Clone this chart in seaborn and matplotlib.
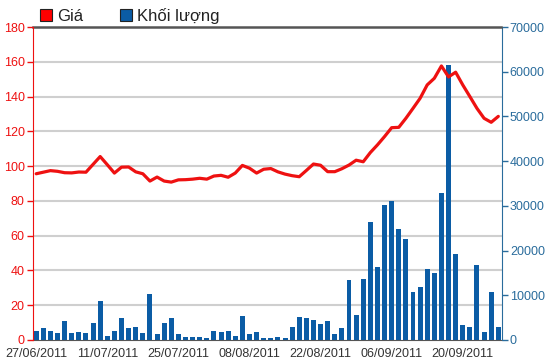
import matplotlib
matplotlib.use("Agg")
import matplotlib.pyplot as plt
from matplotlib.patches import Patch
import seaborn as sns
import pandas as pd
import numpy as np

# trading days 27/06/2011 - 27/09/2011 (02/09 is a holiday)
dates = pd.bdate_range("2011-06-27", "2011-09-27")
dates = dates[dates != pd.Timestamp("2011-09-02")]
tick_labels = ["27/06/2011", "11/07/2011", "25/07/2011", "08/08/2011",
               "22/08/2011", "06/09/2011", "20/09/2011"]

price = [95.6, 96.5, 97.4, 97.0, 96.2, 96.1, 96.6, 96.5, 101.0, 105.5,
         100.8, 96.0, 99.4, 99.5, 96.7, 95.6, 91.4, 93.7, 91.4, 90.8,
         92.1, 92.2, 92.5, 93.0, 92.5, 94.3, 94.7, 93.6, 96.0, 100.4,
         98.8, 96.0, 98.2, 98.6, 96.7, 95.4, 94.5, 93.9, 97.5, 101.2,
         100.5, 96.8, 96.8, 98.5, 100.6, 103.4, 102.5, 107.8, 112.2, 117.0,
         122.1, 122.3, 127.5, 133.2, 139.0, 146.7, 150.5, 157.6, 151.3, 154.0,
         146.7, 140.0, 133.2, 127.5, 125.2, 128.6]

volume = [2090, 2600, 2090, 1560, 4320, 1560, 1860, 1560, 3800, 8800,
          970, 2090, 4920, 2600, 2980, 1560, 10290, 1270, 3800, 4920,
          1340, 600, 600, 600, 370, 2010, 1720, 2010, 890, 5440,
          1270, 1720, 370, 370, 600, 370, 2830, 5220, 4920, 4550,
          3500, 4320, 1270, 2600, 13350, 5500, 13550, 26460, 16360, 30190,
          31160, 24820, 22510, 10810, 11930, 15880, 15060, 32940, 61500, 19230,
          3350, 2830, 16770, 1860, 10810, 2980]

df = pd.DataFrame({"i": np.arange(len(dates)), "date": dates,
                   "price": price, "volume": volume})

RED = "#ee1111"
BLUE = "#0b5ca5"
AXBLUE = "#2a6c9c"

sns.set_style("white")
plt.rcParams["font.family"] = ["Liberation Sans", "DejaVu Sans"]

fig = plt.figure(figsize=(5.5, 3.64), dpi=100)
ax_vol = fig.add_axes([33 / 550, 1 - 340 / 364, (501.5 - 33) / 550, 313 / 364])
ax_price = ax_vol.twinx()
ax_vol.yaxis.tick_right()
ax_price.yaxis.tick_left()
ax_price.yaxis.set_label_position("left")

sns.barplot(data=df, x="i", y="volume", ax=ax_vol, native_scale=True,
            color=BLUE, saturation=1, width=0.7, linewidth=0)
sns.lineplot(data=df, x="i", y="price", ax=ax_price, color=RED, lw=2.3)

ax_vol.set_xlim(-0.45, 65.45)
ax_vol.set_ylim(0, 70000)
ax_price.set_ylim(0, 180)

# grid follows the price axis (every 20)
ax_vol.set_yticks(np.arange(0, 70001, 10000))
ax_vol.set_yticks([k * 70000 / 9 for k in range(1, 9)], minor=True)
ax_vol.grid(False)
ax_vol.grid(which="minor", axis="y", color="#cfcfcf", lw=1.5)
ax_vol.set_axisbelow(True)
ax_price.set_yticks(np.arange(0, 181, 20))

ax_vol.set_xticks(np.arange(0, 61, 10))
ax_vol.set_xticklabels(tick_labels)
ax_vol.set_xlabel("")
ax_vol.set_ylabel("")
ax_price.set_xlabel("")
ax_price.set_ylabel("")

ax_vol.tick_params(axis="x", direction="out", length=4, width=1,
                   color="#333333", labelcolor="#333333", labelsize=9, pad=2)
ax_vol.tick_params(axis="y", which="major", direction="out", length=4, width=1,
                   color=AXBLUE, labelcolor=AXBLUE, labelsize=9, pad=2)
ax_vol.tick_params(axis="y", which="minor", length=0)
ax_price.tick_params(axis="y", direction="out", length=4, width=1,
                     color=RED, labelcolor=RED, labelsize=9, pad=2)

for s in ax_vol.spines.values():
    s.set_visible(False)
ax_vol.spines["right"].set_visible(True)
ax_vol.spines["right"].set_color(AXBLUE)
ax_vol.spines["top"].set_visible(True)
ax_vol.spines["top"].set_color("#555555")
ax_vol.spines["top"].set_linewidth(1.8)
ax_vol.spines["bottom"].set_visible(True)
ax_vol.spines["bottom"].set_color("#555555")
for s in ax_price.spines.values():
    s.set_visible(False)
ax_price.spines["left"].set_visible(True)
ax_price.spines["left"].set_color(RED)

handles = [Patch(facecolor="#ff0000", edgecolor="#222222", lw=0.8, label="Giá"),
           Patch(facecolor=BLUE, edgecolor="#222222", lw=0.8, label="Khối lượng")]
fig.legend(handles=handles, loc="center left", bbox_to_anchor=(40 / 550, 1 - 16 / 364),
           ncol=2, frameon=False, fontsize=12, handlelength=0.72, handleheight=0.72,
           handletextpad=0.3, columnspacing=2.2, borderpad=0, borderaxespad=0,
           labelcolor="#222222")

fig.savefig("out.png", dpi=100)
